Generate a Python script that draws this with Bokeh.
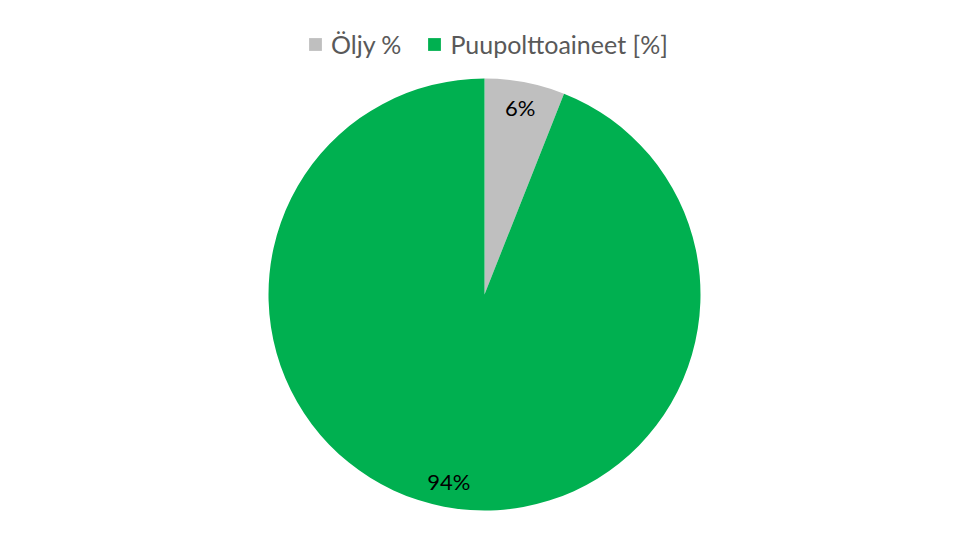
import math
from bokeh.plotting import figure
from bokeh.models import ColumnDataSource, Range1d, Legend, LegendItem
from bokeh.core.properties import value
from bokeh.embed import file_html
from bokeh.resources import INLINE

categories = ["Öljy %", "Puupolttoaineet [%]"]
values = [6, 94]
labels = ["6%", "94%"]
colors = ["#BFBFBF", "#00B050"]

W, H = 960, 532
cx, cy, r = 484, 238, 216
label_frac = 0.88

total = sum(values)
starts, ends, lx, ly = [], [], [], []
cum = 0.0
for v in values:
    a0 = math.pi / 2 - 2 * math.pi * cum / total
    cum += v
    a1 = math.pi / 2 - 2 * math.pi * cum / total
    starts.append(a0)
    ends.append(a1)
    mid = (a0 + a1) / 2
    lx.append(cx + label_frac * r * math.cos(mid))
    ly.append(cy + label_frac * r * math.sin(mid))

src = ColumnDataSource(dict(cat=categories, val=values, start=starts, end=ends,
                            color=colors, lx=lx, ly=ly, lab=labels))

p = figure(width=W, height=H, output_backend="svg", toolbar_location=None,
           x_range=Range1d(0, W), y_range=Range1d(0, H), min_border=0,
           background_fill_color="white", border_fill_color="white")
p.axis.visible = False
p.grid.visible = False
p.outline_line_color = None

renderers = []
for i in range(len(values)):
    rr = p.wedge(x=cx, y=cy, radius=r, start_angle=starts[i], end_angle=ends[i],
                 direction="clock", fill_color=colors[i], line_color=None)
    renderers.append(rr)

p.text(x="lx", y="ly", text="lab", source=src, text_align="center",
       text_baseline="middle", text_font=value("Lato"), text_font_size="22px",
       text_color="#000000")

legend = Legend(items=[LegendItem(label=categories[i], renderers=[renderers[i]])
                       for i in range(len(values))],
                orientation="horizontal", location=(307, 473),
                glyph_width=16, glyph_height=16, label_standoff=8, spacing=25,
                padding=0, margin=0, border_line_color=None,
                background_fill_alpha=0, label_text_font="Lato",
                label_text_font_size="25px", label_text_color="#595959",
                label_height=16)
p.add_layout(legend, "center")

open("out.html", "w").write(file_html(p, INLINE))
